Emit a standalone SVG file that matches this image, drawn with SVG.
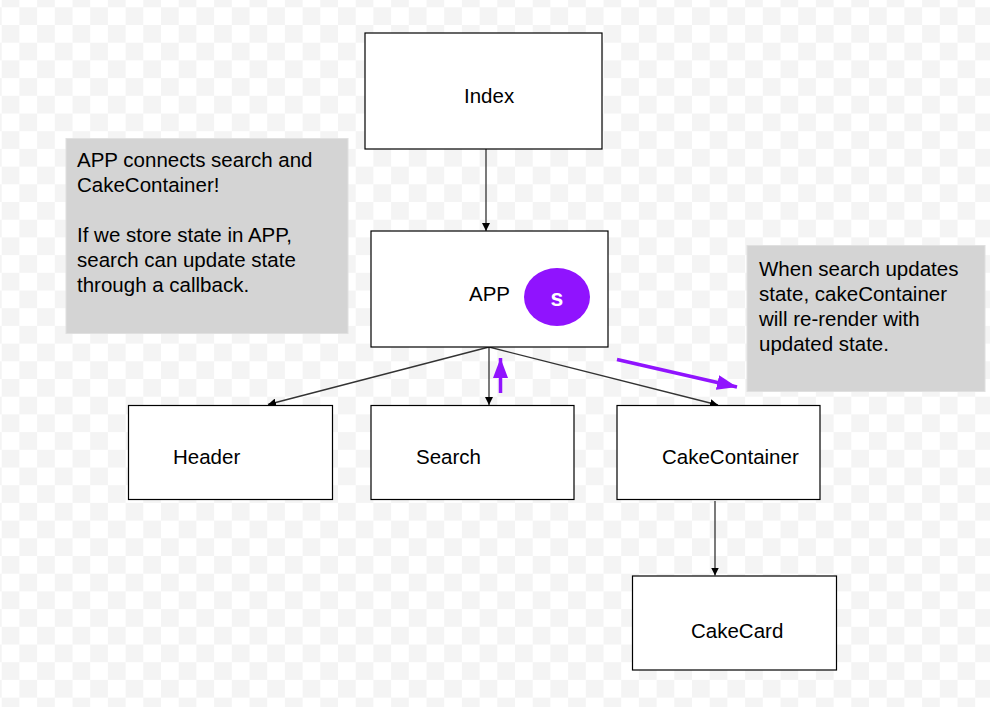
<svg xmlns="http://www.w3.org/2000/svg" width="990" height="707" viewBox="0 0 990 707">
<defs>
<pattern id="chk" x="1.7" y="7.3" width="35.4" height="35.4" patternUnits="userSpaceOnUse">
<rect x="0" y="0" width="35.4" height="35.4" fill="#ffffff"/>
<rect x="17.7" y="0" width="17.7" height="17.7" fill="#f4f4f4"/>
<rect x="0" y="17.7" width="17.7" height="17.7" fill="#f4f4f4"/>
</pattern>
<marker id="ah" markerWidth="8" markerHeight="8" refX="8" refY="4" orient="auto" markerUnits="userSpaceOnUse">
<path d="M0,0 L8,4 L0,8 Z" fill="#000"/>
</marker>
<marker id="ahp" markerWidth="20" markerHeight="15" refX="20" refY="7.5" orient="auto" markerUnits="userSpaceOnUse">
<path d="M0,0 L20,7.5 L0,15 Z" fill="#9013fe"/>
</marker>
</defs>
<style>
.box{fill:#fff;stroke:#000;stroke-width:1.2}
.lbl{font-family:"Liberation Sans",Arial,sans-serif;font-size:20.5px;fill:#000}
.note{fill:#d4d4d4;stroke:#e0e0e0;stroke-width:1}
.ntxt{font-family:"Liberation Sans",Arial,sans-serif;font-size:20.5px;fill:#000}
.con{fill:none;stroke:#333;stroke-width:1.3;marker-end:url(#ah)}
.pur{fill:none;stroke:#9013fe;stroke-width:3.5;marker-end:url(#ahp)}
</style>
<rect width="990" height="707" fill="url(#chk)"/>

<g id="note-app">
<rect class="note" x="66" y="138.5" width="282" height="195"/>
<text class="ntxt" x="77" y="167">APP connects search and</text>
<text class="ntxt" x="77" y="192">CakeContainer!</text>
<text class="ntxt" x="77" y="242">If we store state in APP,</text>
<text class="ntxt" x="77" y="267">search can update state</text>
<text class="ntxt" x="77" y="292">through a callback.</text>
</g>
<g id="note-search">
<rect class="note" x="747" y="245.5" width="238" height="146"/>
<text class="ntxt" x="759" y="276">When search updates</text>
<text class="ntxt" x="759" y="301">state, cakeContainer</text>
<text class="ntxt" x="759" y="326">will re-render with</text>
<text class="ntxt" x="759" y="351">updated state.</text>
</g>

<g id="connectors">
<line class="con" x1="486" y1="149" x2="486" y2="231"/>
<line class="con" x1="489" y1="347" x2="268" y2="404.5"/>
<line class="con" x1="489" y1="347" x2="489" y2="405"/>
<line class="con" x1="489" y1="347" x2="718" y2="405"/>
<line class="con" x1="715" y1="501" x2="715" y2="575.5"/>
<line class="pur" x1="500.5" y1="393" x2="500.5" y2="358"/>
<line class="pur" x1="617" y1="359.5" x2="737" y2="387"/>
</g>

<g id="index">
<rect class="box" x="365" y="33" width="237" height="116"/>
<text class="lbl" x="464" y="103">Index</text>
</g>
<g id="app">
<rect class="box" x="371" y="231" width="237" height="116"/>
<text class="lbl" x="469" y="301">APP</text>
<ellipse cx="557" cy="297" rx="33" ry="29" fill="#9013fe"/>
<text x="557" y="306" text-anchor="middle" font-family="Liberation Sans,Arial,sans-serif" font-size="23" font-weight="bold" fill="#fff">s</text>
</g>
<g id="header">
<rect class="box" x="128.5" y="405.5" width="204" height="94"/>
<text class="lbl" x="173" y="464">Header</text>
</g>
<g id="search">
<rect class="box" x="371" y="405.5" width="203" height="94"/>
<text class="lbl" x="416" y="464">Search</text>
</g>
<g id="cakecontainer">
<rect class="box" x="617" y="405.5" width="203" height="94"/>
<text class="lbl" x="662" y="464">CakeContainer</text>
</g>
<g id="cakecard">
<rect class="box" x="632.5" y="576" width="204" height="94"/>
<text class="lbl" x="691" y="638">CakeCard</text>
</g>
</svg>
